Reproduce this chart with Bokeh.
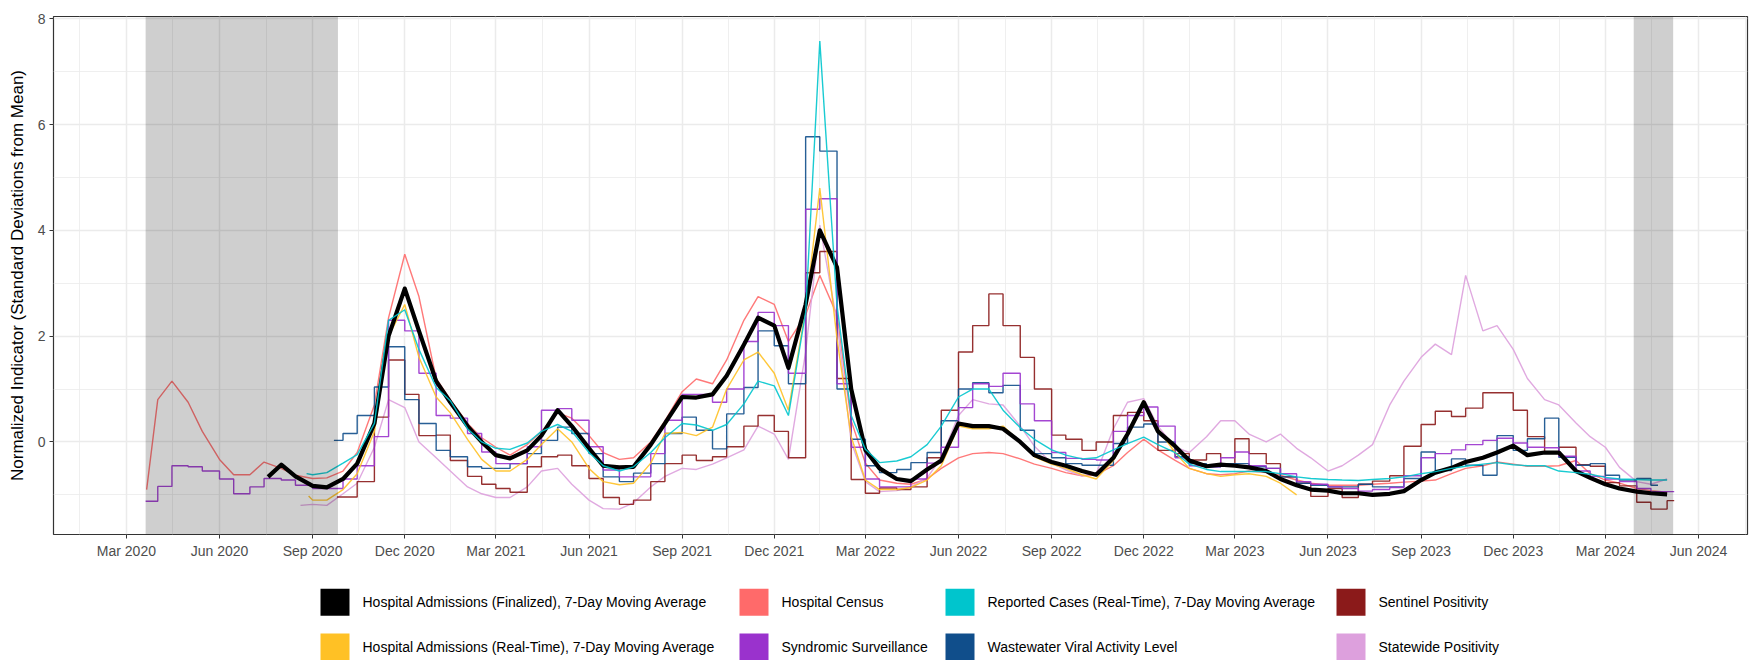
import pandas as pd
from bokeh.plotting import figure
from bokeh.layouts import column
from bokeh.models import (Range1d, FixedTicker, BoxAnnotation, ColumnDataSource,
                          DatetimeTickFormatter)
from bokeh.core.properties import value
from bokeh.embed import file_html
from bokeh.resources import INLINE

FONT = "Liberation Sans"

# ---------------- data (first reading at the series start, then 1st and 15th of each month) ----------------
x_tick_labels = ["Mar 2020", "Jun 2020", "Sep 2020", "Dec 2020", "Mar 2021", "Jun 2021",
                 "Sep 2021", "Dec 2021", "Mar 2022", "Jun 2022", "Sep 2022", "Dec 2022",
                 "Mar 2023", "Jun 2023", "Sep 2023", "Dec 2023", "Mar 2024", "Jun 2024"]
y_tick_values = [0, 2, 4, 6, 8]
y_minor_values = [-1, 1, 3, 5, 7]

shaded_start = ["2020-03-20", "2024-03-29"]
shaded_end = ["2020-09-26", "2024-05-07"]

fin_start = "2020-07-19"
fin_vals = [-0.66, -0.43, -0.65, -0.83, -0.86, -0.7, -0.41, 0.35, 2.0, 2.9, 2.1,
            1.15, 0.75, 0.3, 0.0, -0.25, -0.31, -0.16, 0.12, 0.6, 0.3, -0.12, -0.45,
            -0.48, -0.47, -0.05, 0.35, 0.85, 0.84, 0.9, 1.25, 1.84, 2.35, 2.2, 1.4,
            2.6, 4.0, 3.3, 1.0, -0.15, -0.5, -0.7, -0.74, -0.52, -0.35, 0.35, 0.3,
            0.3, 0.25, 0.0, -0.25, -0.38, -0.45, -0.55, -0.62, -0.3, 0.15, 0.75, 0.2,
            -0.08, -0.35, -0.46, -0.43, -0.45, -0.48, -0.55, -0.7, -0.82, -0.9, -0.92, -0.97,
            -0.97, -1.0, -0.98, -0.93, -0.72, -0.58, -0.49, -0.38, -0.3, -0.2, -0.07, -0.25,
            -0.2, -0.2, -0.55, -0.68, -0.8, -0.88, -0.94, -0.97, -0.99]

rt_start = "2020-08-28"
rt_vals = [-1.02, -1.1, -1.1, -0.9, -0.6, 0.2, 2.0, 2.6, 1.6,
           0.85, 0.55, 0.05, -0.33, -0.55, -0.55, -0.33, -0.05, 0.25, 0.0, -0.5, -0.75,
           -0.81, -0.78, -0.4, 0.16, 0.18, 0.12, 0.28, 1.0, 1.55, 1.7, 1.3, 0.6,
           2.5, 4.8, 1.95, 0.1, -0.72, -0.9, -0.9, -0.86, -0.72, -0.45, 0.3, 0.25,
           0.25, 0.3, 0.0, -0.28, -0.42, -0.5, -0.62, -0.7, -0.35, 0.15, 0.78, 0.25,
           -0.2, -0.5, -0.6, -0.65, -0.62, -0.6, -0.65, -0.78, -1.0]

census_start = "2020-03-21"
census_vals = [-0.9, 0.8, 1.15, 0.75, 0.2, -0.33, -0.62, -0.62, -0.38, -0.5, -0.63, -0.69,
               -0.68, -0.55, -0.2, 0.7, 2.35, 3.55, 2.75,
               1.2, 0.8, 0.35, 0.08, -0.1, -0.25, -0.05, 0.2, 0.55, 0.45, 0.12, -0.2,
               -0.33, -0.3, 0.0, 0.4, 0.95, 1.19, 1.1, 1.55, 2.3, 2.75, 2.6, 1.9,
               2.4, 3.15, 2.4, 0.4, -0.4, -0.72, -0.78, -0.8, -0.7, -0.5, -0.3, -0.22,
               -0.2, -0.22, -0.32, -0.42, -0.5, -0.58, -0.64, -0.62, -0.45, -0.2, 0.05, -0.15,
               -0.35, -0.5, -0.6, -0.62, -0.6, -0.55, -0.58, -0.63, -0.72, -0.78, -0.82, -0.82,
               -0.82, -0.8, -0.78, -0.76, -0.74, -0.72, -0.6, -0.5, -0.45, -0.38, -0.42, -0.46,
               -0.46, -0.45, -0.35, -0.6, -0.72, -0.78, -0.88, -0.92, -0.95]

synd_start = "2020-03-20"
synd_vals = [-1.12, -0.84, -0.45, -0.47, -0.55, -0.7, -0.98, -0.85, -0.69, -0.72, -0.82, -0.88,
             -0.88, -0.7, -0.45, 0.1, 2.3, 2.1, 1.3,
             0.5, 0.45, 0.16, -0.19, -0.41, -0.41, -0.09, 0.6, 0.63, 0.41, -0.09, -0.53,
             -0.66, -0.66, -0.22, 0.41, 0.9, 0.9, 0.75, 1.0, 1.9, 2.45, 2.2, 1.3,
             4.4, 4.6, 1.1, -0.1, -0.7, -0.85, -0.85, -0.7, -0.4, -0.1, 0.65, 1.1,
             1.05, 1.3, 0.72, 0.4, -0.2, -0.31, -0.33, -0.34, 0.2, 0.5, 0.66, 0.3,
             -0.3, -0.45, -0.47, -0.3, -0.19, -0.45, -0.5, -0.6, -0.75, -0.8, -0.85, -0.88,
             -0.93, -0.9, -0.86, -0.64, -0.3, -0.22, -0.15, -0.05, 0.03, 0.07, -0.02, -0.1,
             -0.11, -0.27, -0.55, -0.65, -0.7, -0.75, -0.88, -0.94, -0.94]

cases_start = "2020-08-26"
cases_vals = [-0.6, -0.62, -0.58, -0.4, -0.24, 0.35, 2.3, 2.5, 1.75,
              1.03, 0.78, 0.25, 0.0, -0.12, -0.14, -0.02, 0.2, 0.33, 0.2, -0.2, -0.45,
              -0.55, -0.47, -0.2, 0.08, 0.35, 0.32, 0.22, 0.33, 0.72, 1.15, 1.06, 0.5,
              2.45, 7.58, 2.58, 0.5, -0.14, -0.39, -0.36, -0.28, -0.05, 0.3, 0.85, 1.0,
              1.0, 0.6, 0.27, 0.05, -0.15, -0.25, -0.32, -0.3, -0.15, -0.03, 0.09, -0.05,
              -0.2, -0.42, -0.52, -0.56, -0.56, -0.56, -0.56, -0.6, -0.66, -0.69, -0.71, -0.72,
              -0.73, -0.71, -0.69, -0.66, -0.6, -0.56, -0.5, -0.46, -0.42, -0.39, -0.43, -0.45,
              -0.45, -0.55, -0.58, -0.61, -0.67, -0.7, -0.71, -0.72, -0.72]

waste_start = "2020-09-22"
waste_vals = [0.03, 0.16, 0.5, 1.04, 1.8, 0.8, 0.35,
              -0.16, -0.28, -0.47, -0.5, -0.5, -0.41, -0.22, 0.03, 0.28, 0.16, -0.22, -0.66,
              -0.75, -0.59, -0.41, 0.16, 0.47, 0.22, -0.13, 0.53, 1.03, 2.1, 1.82, 1.1,
              5.77, 5.5, 1.0, 0.05, -0.45, -0.58, -0.52, -0.39, -0.2, 0.4, 1.0, 1.12,
              0.93, 1.07, 0.22, -0.22, -0.3, -0.41, -0.44, -0.44, -0.03, 0.28, 0.34, 0.0,
              -0.28, -0.41, -0.47, -0.41, -0.41, -0.47, -0.5, -0.66, -0.78, -0.82, -0.85, -0.85,
              -0.8, -0.85, -0.85, -0.69, -0.19, -0.54, -0.32, -0.44, -0.63, 0.12, -0.16, 0.06,
              0.45, -0.29, -0.44, -0.41, -0.63, -0.72, -0.69, -0.82]

sent_start = "2020-09-25"
sent_vals = [-1.04, -1.04, -0.75, 0.47, 1.55, 0.9, 0.12,
             0.13, -0.35, -0.65, -0.8, -0.88, -0.95, -0.47, -0.28, -0.25, -0.45, -0.69, -1.05,
             -1.18, -1.1, -0.75, -0.41, -0.25, -0.35, -0.28, -0.09, 0.3, 0.5, 0.2, -0.3,
             3.2, 3.6, 1.2, -0.71, -0.97, -0.87, -0.9, -0.85, -0.3, 0.6, 1.7, 2.2,
             2.8, 2.2, 1.6, 1.0, 0.13, 0.05, -0.16, 0.0, 0.5, 0.56, 0.4, -0.16,
             -0.22, -0.34, -0.22, -0.41, 0.06, -0.22, -0.41, -0.66, -0.78, -1.03, -0.88, -1.05,
             -0.8, -0.74, -0.64, -0.08, 0.33, 0.58, 0.48, 0.64, 0.93, 0.93, 0.6, 0.1,
             -0.21, -0.1, -0.43, -0.46, -0.77, -0.83, -1.14, -1.27, -1.11]

state_start = "2020-08-20"
state_vals = [-1.2, -1.18, -1.2, -0.98, -0.78, -0.1, 0.8, 0.65, 0.0,
              -0.3, -0.55, -0.85, -0.98, -1.05, -1.05, -0.85, -0.55, -0.5, -0.8, -1.1, -1.26,
              -1.27, -1.15, -0.85, -0.65, -0.5, -0.52, -0.42, -0.3, -0.15, 0.3, 0.15, -0.33,
              1.7, 4.1, 2.26, 0.0, -0.75, -0.94, -0.92, -0.85, -0.68, -0.3, 0.5, 0.8,
              0.72, 0.7, 0.3, -0.08, -0.4, -0.53, -0.64, -0.6, 0.25, 0.75, 0.82, 0.3,
              -0.1, -0.2, 0.1, 0.4, 0.4, 0.15, 0.0, 0.15, -0.12, -0.3, -0.55, -0.45,
              -0.25, -0.05, 0.7, 1.15, 1.6, 1.85, 1.65, 3.15, 2.1, 2.2, 1.75, 1.2,
              0.8, 0.7, 0.36, 0.1, -0.1, -0.48, -0.75, -0.8, -0.7]

# label, colour, start, values, kind  (drawing order)
series = [
    ("Hospital Census", "#FF6A6A", census_start, census_vals, "line"),
    ("Statewide Positivity", "#DDA0DD", state_start, state_vals, "line"),
    ("Sentinel Positivity", "#8B1A1A", sent_start, sent_vals, "step"),
    ("Wastewater Viral Activity Level", "#104E8B", waste_start, waste_vals, "step"),
    ("Syndromic Surveillance", "#9A32CD", synd_start, synd_vals, "step"),
    ("Hospital Admissions (Real-Time), 7-Day Moving Average", "#FFC125", rt_start, rt_vals, "line"),
    ("Hospital Admissions (Finalized), 7-Day Moving Average", "#000000", fin_start, fin_vals, "thick"),
    ("Reported Cases (Real-Time), 7-Day Moving Average", "#00C5CD", cases_start, cases_vals, "line"),
]

# legend grid, row by row (4 columns x 2 rows)
legend_order = [
    "Hospital Admissions (Finalized), 7-Day Moving Average", "Hospital Census",
    "Reported Cases (Real-Time), 7-Day Moving Average", "Sentinel Positivity",
    "Hospital Admissions (Real-Time), 7-Day Moving Average", "Syndromic Surveillance",
    "Wastewater Viral Activity Level", "Statewide Positivity",
]


def series_dates(start, n):
    """First reading on the start day, later readings on the 1st and 15th of each month."""
    t0 = pd.Timestamp(start)
    rng = list(pd.date_range(t0, periods=n, freq="SMS"))
    if rng[0] != t0:
        rng = [t0] + rng[:n - 1]
    return rng


# ---------------- main figure ----------------
W = 1749
MAIN_H = 564
LEG_H = 96
BORDER_L, BORDER_R = 53, 2

p = figure(width=W, height=MAIN_H, x_axis_type="datetime",
           x_range=Range1d(pd.Timestamp("2019-12-20"), pd.Timestamp("2024-07-19 10:00")),
           y_range=Range1d(-1.75, 8.045),
           output_backend="svg", toolbar_location=None,
           min_border_left=BORDER_L, min_border_right=BORDER_R, min_border_top=16,
           min_border_bottom=30,
           background_fill_color="white", border_fill_color="white")

tick_dates = [pd.to_datetime(s, format="%b %Y") for s in x_tick_labels]
tick_ms = [t.value // 10**6 for t in tick_dates]
step_ms = tick_ms[1] - tick_ms[0]
ext = [tick_ms[0] - step_ms] + tick_ms + [tick_ms[-1] + step_ms]
minor_ms = [(a + b) / 2 for a, b in zip(ext[:-1], ext[1:])]

p.xaxis.ticker = FixedTicker(ticks=tick_ms, minor_ticks=minor_ms)
p.xaxis.formatter = DatetimeTickFormatter(days="%b %Y", months="%b %Y", years="%b %Y")
p.yaxis.ticker = FixedTicker(ticks=y_tick_values, minor_ticks=y_minor_values)

for g in (p.xgrid[0], p.ygrid[0]):
    g.grid_line_color = "#EBEBEB"
    g.grid_line_width = 1.5
    g.minor_grid_line_color = "#EBEBEB"
    g.minor_grid_line_width = 0.8

for ax in (p.xaxis[0], p.yaxis[0]):
    ax.axis_line_color = None
    ax.major_tick_line_color = "#333333"
    ax.major_tick_line_width = 1
    ax.major_tick_out = 4
    ax.major_tick_in = 0
    ax.minor_tick_line_color = None
    ax.major_label_text_font = FONT
    ax.major_label_text_font_size = "14px"
    ax.major_label_text_color = "#4D4D4D"
    ax.major_label_standoff = 4

p.yaxis.axis_label = "Normalized Indicator (Standard Deviations from Mean)"
p.yaxis.axis_label_text_font = FONT
p.yaxis.axis_label_text_font_size = "17px"
p.yaxis.axis_label_text_font_style = "normal"
p.yaxis.axis_label_text_color = "#000000"
p.yaxis.axis_label_standoff = 8

p.outline_line_color = "#333333"
p.outline_line_width = 1.2

for label, color, start, vals, kind in series:
    dates = series_dates(start, len(vals))
    ys = list(vals)
    if kind == "step":
        dates = dates + [dates[-1] + pd.Timedelta(days=7)]
        ys = ys + [ys[-1]]
    src = ColumnDataSource(dict(x=dates, y=ys))
    if kind == "step":
        p.step("x", "y", source=src, mode="after", line_color=color, line_width=1.4, line_alpha=0.9)
    elif kind == "thick":
        p.line("x", "y", source=src, line_color=color, line_width=4.2, line_join="round")
    else:
        p.line("x", "y", source=src, line_color=color, line_width=1.4, line_alpha=0.9)

for s, e in zip(shaded_start, shaded_end):
    p.add_layout(BoxAnnotation(left=pd.Timestamp(s).value // 10**6, right=pd.Timestamp(e).value // 10**6,
                               fill_color="black", fill_alpha=0.19, line_color=None))

# ---------------- legend strip (pixel coordinates; frame aligned with main frame) ----------------
colors = {lab: col for lab, col, _, _, _ in series}
col_x = [320, 739, 945, 1336]
row_y = [37.7, 82.5]
key_w, key_h, text_gap = 29, 27, 42

leg = figure(width=W, height=LEG_H, x_range=Range1d(BORDER_L, W - BORDER_R), y_range=Range1d(LEG_H, 0),
             output_backend="svg", toolbar_location=None,
             x_axis_location=None, y_axis_location=None,
             min_border_left=BORDER_L, min_border_right=BORDER_R, min_border_top=0, min_border_bottom=0,
             background_fill_color="white", border_fill_color="white", outline_line_color=None)
leg.grid.visible = False

kx, ky, kc, tx, ty, tl = [], [], [], [], [], []
for i, lab in enumerate(legend_order):
    c, r = i % 4, i // 4
    kx.append(col_x[c] + key_w / 2)
    ky.append(row_y[r])
    kc.append(colors[lab])
    tx.append(col_x[c] + text_gap)
    ty.append(row_y[r])
    tl.append(lab)

leg.rect(x=kx, y=ky, width=key_w, height=key_h, fill_color=kc, line_color=None)
leg.text(x=tx, y=ty, text=tl, text_baseline="middle", text_align="left",
         text_font=value(FONT), text_font_size="14px", text_color="#000000")

layout = column(p, leg, spacing=0)
open("out.html", "w").write(file_html(layout, INLINE))
